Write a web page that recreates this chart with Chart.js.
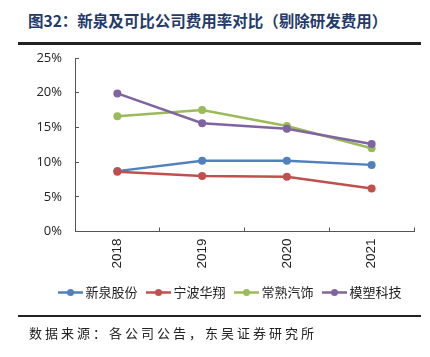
<!DOCTYPE html>
<html>
<head>
<meta charset="utf-8">
<script src="https://cdn.jsdelivr.net/npm/chart.js@4/dist/chart.umd.min.js"></script>
<style>
  html, body { margin: 0; padding: 0; background: #fff; }
  #wrap { position: relative; width: 430px; height: 357px; overflow: hidden; }
  #title { position: absolute; left: 28px; top: 9px; font-family: "Noto Sans CJK SC", sans-serif; font-weight: bold; font-size: 15.5px; color: #233a6b; white-space: nowrap; line-height: 22px; }
  #tline { position: absolute; left: 18px; top: 42px; width: 403px; height: 2.5px; background: #222; }
  #bline { position: absolute; left: 18px; top: 315px; width: 403px; height: 2px; background: #222; }
  #source { position: absolute; left: 29px; top: 324px; font-family: "Noto Sans CJK SC", sans-serif; font-size: 13px; letter-spacing: 3px; color: #222; white-space: nowrap; line-height: 18px; }
  #cv { position: absolute; left: 0; top: 0; }
</style>
</head>
<body>
<div id="wrap">
  <div id="title">图32：新泉及可比公司费用率对比（剔除研发费用）</div>
  <div id="tline"></div>
  <canvas id="cv" width="430" height="357"></canvas>
  <div id="bline"></div>
  <div id="source">数据来源：各公司公告，东吴证券研究所</div>
</div>
<script>
const years = ["2018", "2019", "2020", "2021"];
const seriesNames = ["新泉股份", "宁波华翔", "常熟汽饰", "模塑科技"];
const xinquan = [8.7, 10.2, 10.2, 9.6];
const ningbo = [8.6, 8.0, 7.9, 6.2];
const changshu = [16.6, 17.5, 15.2, 12.0];
const mosu = [19.9, 15.6, 14.8, 12.6];
const yTicks = [0, 5, 10, 15, 20, 25];
const colors = ["#4F81BD", "#C0504D", "#9BBB59", "#8064A2"];

function legendIcon(color) {
  const c = document.createElement('canvas');
  c.width = 25; c.height = 9;
  const g = c.getContext('2d');
  g.strokeStyle = color; g.lineWidth = 2.5;
  g.beginPath(); g.moveTo(0, 4.5); g.lineTo(25, 4.5); g.stroke();
  g.fillStyle = color;
  g.beginPath(); g.arc(12.5, 4.5, 3.5, 0, Math.PI * 2); g.fill();
  return c;
}
const icons = colors.map(legendIcon);

const values = [xinquan, ningbo, changshu, mosu];
const datasets = values.map((v, i) => ({
  label: seriesNames[i],
  data: v,
  borderColor: colors[i],
  backgroundColor: colors[i],
  pointBackgroundColor: colors[i],
  pointBorderWidth: 0,
  pointRadius: 4,
  borderWidth: 2.5,
  tension: 0,
  order: 4 - i
}));

new Chart(document.getElementById('cv'), {
  type: 'line',
  data: { labels: years, datasets },
  options: {
    responsive: false,
    animation: false,
    events: [],
    layout: { padding: { top: 58, right: 16, left: 0, bottom: 48 } },
    scales: {
      x: {
        offset: true,
        afterFit: s => { s.height = 42; },
        grid: { display: true, offset: true, drawOnChartArea: false, tickLength: -4, color: '#555', lineWidth: 1 },
        border: { display: true, color: '#555', width: 1 },
        ticks: { maxRotation: 90, minRotation: 90, padding: 11, color: '#222', font: { family: 'Liberation Sans', size: 13.5 } }
      },
      y: {
        min: 0, max: 25,
        afterBuildTicks: s => { s.ticks = yTicks.map(v => ({ value: v })); },
        afterFit: s => { s.width = 75; },
        grid: { display: true, drawOnChartArea: false, tickLength: -4, color: '#555', lineWidth: 1 },
        border: { display: true, color: '#555', width: 1 },
        ticks: { padding: 17, color: '#222', font: { family: 'Open Sans', size: 13 }, callback: v => v + '%' }
      }
    },
    plugins: {
      title: { display: false },
      tooltip: { enabled: false },
      legend: {
        position: 'bottom',
        align: 'end',
        labels: {
          usePointStyle: true,
          pointStyleWidth: 17,
          padding: 12.5,
          color: '#222',
          font: { family: 'Noto Sans CJK SC', size: 13 },
          sort: (a, b) => a.datasetIndex - b.datasetIndex,
          generateLabels: chart => Chart.defaults.plugins.legend.labels.generateLabels(chart).map(it => {
            it.pointStyle = icons[it.datasetIndex];
            return it;
          })
        }
      }
    }
  }
});
</script>
</body>
</html>
